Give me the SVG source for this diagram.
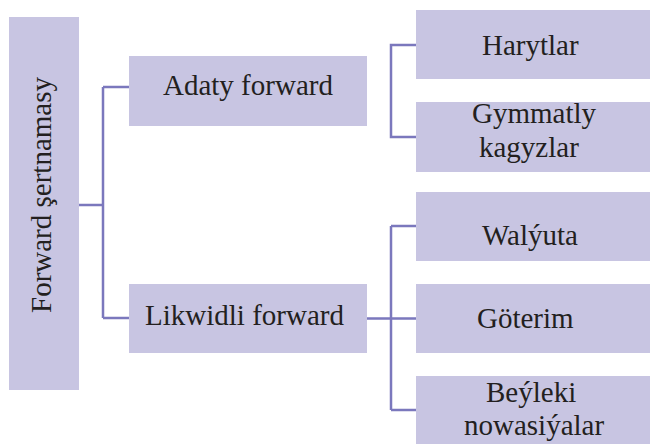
<svg xmlns="http://www.w3.org/2000/svg" width="650" height="444" viewBox="0 0 650 444">
<style>
.box{fill:#c8c5e2;}
.c{stroke:#7b78bd;stroke-width:2.5;fill:none;}
</style>
<rect width="650" height="444" fill="#fff"/>
<g id="connectors">
<path class="c" d="M78 205 H103 M103 87 V318 M103 87 H129 M103 318 H129"/>
<path class="c" d="M416 45 H391 V137 H416"/>
<path class="c" d="M367 318.5 H416 M391 226 V410 M391 226 H416 M391 410 H416"/>
</g>
<g id="root">
<rect class="box" x="9" y="17" width="70" height="373"/>
<text font-family="Liberation Serif" font-size="29" fill="#231f20" x="-313" y="51" transform="rotate(-90)">Forward &#351;ertnamasy</text>
</g>
<g id="adaty">
<rect class="box" x="129" y="56" width="238" height="70"/>
<text font-family="Liberation Serif" font-size="29" fill="#231f20" x="163" y="95">Adaty forward</text>
</g>
<g id="likwidli">
<rect class="box" x="129" y="284" width="238" height="69"/>
<text font-family="Liberation Serif" font-size="29" fill="#231f20" x="145" y="325">Likwidli forward</text>
</g>
<g id="harytlar">
<rect class="box" x="416" y="10" width="234" height="69"/>
<text font-family="Liberation Serif" font-size="29" fill="#231f20" x="482" y="55">Harytlar</text>
</g>
<g id="gymmatly">
<rect class="box" x="416" y="102" width="234" height="70"/>
<text font-family="Liberation Serif" font-size="29" fill="#231f20" x="472" y="123">Gymmatly</text>
<text font-family="Liberation Serif" font-size="29" fill="#231f20" x="479" y="157">kagyzlar</text>
</g>
<g id="walyuta">
<rect class="box" x="416" y="192" width="234" height="69"/>
<text font-family="Liberation Serif" font-size="29" fill="#231f20" x="482" y="245">Wal&#253;uta</text>
</g>
<g id="goterim">
<rect class="box" x="416" y="284" width="234" height="69"/>
<text font-family="Liberation Serif" font-size="29" fill="#231f20" x="477" y="328">G&#246;terim</text>
</g>
<g id="beyleki">
<rect class="box" x="416" y="376" width="234" height="68"/>
<text font-family="Liberation Serif" font-size="29" fill="#231f20" x="486" y="402">Be&#253;leki</text>
<text font-family="Liberation Serif" font-size="29" fill="#231f20" x="464" y="435">nowasi&#253;alar</text>
</g>
</svg>
